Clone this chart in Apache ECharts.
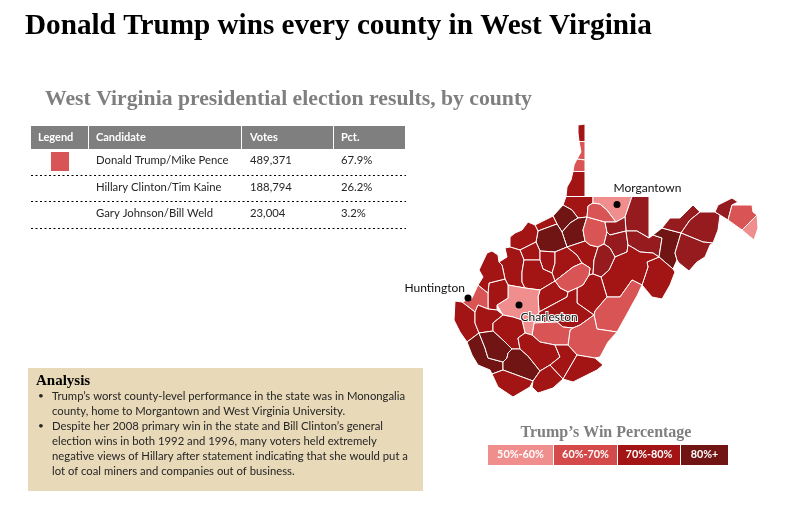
<!DOCTYPE html>
<html>
<head>
<meta charset="utf-8">
<title>West Virginia</title>
<script src="https://cdn.jsdelivr.net/npm/echarts@6/dist/echarts.min.js"></script>
<style>
html,body{margin:0;padding:0;background:#fff}
#chart{width:793px;height:508px}
</style>
</head>
<body>
<div id="chart"></div>
<script>
// table
var tableHead=['Legend','Candidate','Votes','Pct.'];
var candidates=['Donald Trump/Mike Pence','Hillary Clinton/Tim Kaine','Gary Johnson/Bill Weld'];
var votes=['489,371','188,794','23,004'];
var pcts=['67.9%','26.2%','3.2%'];

var analysisLines=[
  'Trump\u2019s worst county-level performance in the state was in Monongalia',
  'county, home to Morgantown and West Virginia University.',
  'Despite her 2008 primary win in the state and Bill Clinton\u2019s general',
  'election wins in both 1992 and 1996, many voters held extremely',
  'negative views of Hillary after statement indicating that she would put a',
  'lot of coal miners and companies out of business.'
];

var legendLabels=['50%-60%','60%-70%','70%-80%','80%+'];

// county results
var counties=['Hancock','Brooke','Ohio','Marshall','Wetzel','Tyler','Pleasants','Doddridge','Ritchie','Wood','Wirt','Jackson','Calhoun','Gilmer','Lewis','Harrison','Marion','Monongalia','Preston','Taylor','Barbour','Tucker','Grant','Mineral','Hampshire','Hardy','Morgan','Berkeley','Jefferson','Pendleton','Randolph','Upshur','Webster','Braxton','Roane','Clay','Nicholas','Pocahontas','Greenbrier','Fayette','Kanawha','Putnam','Cabell','Mason','Wayne','Lincoln','Boone','Mingo','Logan','Wyoming','McDowell','Raleigh','Mercer','Summers','Monroe'];
var trumpPct=[72,65,65,73,74,82,75,84,85,72,74,72,74,73,74,68,66,52,77,77,77,78,87,78,78,78,78,68,55,74,74,77,73,68,72,74,73,68,67,68,55,72,62,73,72,73,73,84,84,85,73,73,74,72,74];

// outlines, page px, neighbours share their vertices
var outlines=[
  [[578,125],[585,124],[585,141.5],[579,141.5],[578,133]],
  [[579,141.5],[585,141.5],[585,160],[577,159],[581,152]],
  [[577,159],[585,160],[585,171.5],[573,171.5],[574,165]],
  [[573,171.5],[585,171.5],[585,196.5],[566,196.5],[567,187],[571,180]],
  [[566,196.5],[585,196.5],[593,196.5],[593,203],[588,206],[587,217],[578,218],[572,210],[563,205]],
  [[563,205],[572,210],[578,218],[570,223],[562,232],[557,224],[553,216]],
  [[535,225],[553,216],[557,224],[538,231]],
  [[578,218],[587,217],[583,230],[585,241],[567,247],[562,232],[570,223]],
  [[538,231],[557,224],[562,232],[567,247],[555,252],[540,251],[536,242]],
  [[528,222],[535,225],[538,231],[536,242],[520,250],[510,247],[510,237],[515,233],[522,230]],
  [[536,242],[540,251],[540,260],[524,260],[520,250]],
  [[510,247],[520,250],[524,260],[522,272],[522,282],[525,288],[508,285],[505,279],[502,265],[499,262],[507,257],[505,248]],
  [[540,251],[555,252],[555,263],[552,273],[543,269],[540,260]],
  [[555,252],[567,247],[577,255],[582,263],[573,267],[555,281],[552,273],[555,263]],
  [[567,247],[585,241],[590,245],[598,247],[594,260],[593,274],[589,275],[590,268],[582,263],[577,255]],
  [[587,217],[605,222],[607,232],[604,244],[598,247],[590,245],[585,241],[583,230]],
  [[593,203],[600,204],[607,210],[616,222],[605,222],[587,217],[588,206]],
  [[593,196.5],[632,196.5],[625,217],[616,222],[607,210],[600,204],[593,203]],
  [[632,196.5],[649,196.5],[649,238],[637,231],[626,231],[625,217]],
  [[605,222],[616,222],[625,217],[626,231],[610,235],[607,232]],
  [[604,244],[607,232],[610,235],[626,231],[628,245],[627,252],[615,257],[610,248]],
  [[626,231],[637,231],[649,238],[653,235],[662,238],[659,257],[653,253],[640,252],[630,246],[628,245]],
  [[653,235],[662,228],[681,233],[675,253],[677,260],[673,269],[659,257],[662,238]],
  [[662,228],[670,218],[680,218],[693,205],[700,212],[690,220],[681,233]],
  [[700,212],[715,212],[720,215],[718,230],[713,243],[703,242],[681,233],[690,220]],
  [[681,233],[703,242],[713,243],[710,245],[705,257],[697,262],[689,271],[679,263],[677,260],[675,253]],
  [[715,212],[718,205],[732,198],[738,202],[732,205],[728,220],[720,215]],
  [[732,205],[752,205],[753,212],[757,215],[742,230],[728,220]],
  [[757,215],[758,228],[754,240],[742,230]],
  [[659,257],[673,269],[675,272],[670,285],[662,299],[652,297],[642,285],[648,267],[647,262]],
  [[628,245],[630,246],[640,252],[653,253],[659,257],[647,262],[648,267],[642,285],[632,280],[620,297],[607,297],[601,277],[609,270],[615,257],[627,252]],
  [[598,247],[604,244],[610,248],[615,257],[609,270],[601,277],[593,274],[594,260]],
  [[589,275],[593,274],[601,277],[607,297],[595,311],[594,315],[577,303],[577,288],[583,285]],
  [[555,281],[573,267],[582,263],[590,268],[589,275],[583,285],[577,288],[568,292],[560,288]],
  [[524,260],[540,260],[543,269],[552,273],[555,281],[540,290],[525,288],[522,282],[522,272]],
  [[540,290],[555,281],[560,288],[568,292],[567,297],[539,312],[538,297]],
  [[539,312],[567,297],[568,292],[577,288],[577,303],[594,315],[580,325],[573,328],[563,327],[557,322],[534,323]],
  [[595,311],[607,297],[620,297],[632,280],[642,285],[637,296],[633,303],[627,314],[617,332],[597,329],[594,315]],
  [[573,328],[580,325],[594,315],[597,329],[617,332],[608,342],[600,357],[595,358],[577,355],[568,345],[570,330]],
  [[534,323],[557,322],[563,327],[573,328],[570,330],[568,345],[555,345],[540,342],[532,335]],
  [[508,285],[525,288],[540,290],[538,297],[539,312],[534,323],[532,335],[525,333],[522,320],[513,317],[503,315],[497,305],[508,298]],
  [[489,283],[505,279],[508,285],[508,298],[497,305],[497,310],[488,309],[488,293]],
  [[478,285],[488,293],[488,309],[478,305],[475,312],[462,302],[472,298]],
  [[479,270],[487,253],[492,251],[498,255],[499,262],[502,265],[505,279],[489,283],[488,293],[478,285],[483,277]],
  [[455,301],[462,302],[475,312],[475,323],[479,333],[467,342],[460,332],[454,320]],
  [[475,312],[478,305],[488,309],[497,310],[503,315],[493,323],[493,331],[479,333],[475,323]],
  [[503,315],[513,317],[522,320],[525,333],[518,338],[520,349],[512,349],[505,342],[493,331],[493,323]],
  [[467,342],[479,333],[485,348],[488,358],[503,362],[503,370],[492,374],[490,370],[478,365],[472,355]],
  [[479,333],[493,331],[505,342],[512,349],[508,353],[507,358],[503,362],[488,358],[485,348]],
  [[508,353],[512,349],[520,349],[528,356],[540,371],[533,381],[503,370],[503,362],[507,358]],
  [[492,374],[503,370],[533,381],[530,387],[513,397],[498,387]],
  [[518,338],[525,333],[532,335],[540,342],[555,345],[560,357],[550,365],[540,371],[528,356],[520,349]],
  [[533,381],[540,371],[550,365],[563,379],[553,388],[538,393],[532,387]],
  [[550,365],[560,357],[555,345],[568,345],[577,355],[563,379]],
  [[577,355],[595,358],[603,365],[597,370],[573,382],[563,379]]
];

var cityNames=['Morgantown','Huntington','Charleston'];
var cityCoords=[[617,204.5],[468,298],[519,305]];

var GRAY='#7f7f7f', TXT='#262626';
var BODY='11.3px Lato, "Noto Sans", sans-serif';
var SERIF='Liberation Serif, serif';

var features=counties.map(function(name,i){
  return {type:'Feature',properties:{name:name},geometry:{type:'Polygon',coordinates:[outlines[i].map(function(p){return [p[0],-p[1]];})]}};
});
echarts.registerMap('wv',{type:'FeatureCollection',features:features});

var chart=echarts.init(document.getElementById('chart'));

function text(x,y,s,font,fill,align){
  return {type:'text',silent:true,style:{x:x,y:y,text:s,font:font,fill:fill,textAlign:align||'left',textVerticalAlign:'middle'}};
}
function rect(x,y,w,h,fill){
  return {type:'rect',silent:true,shape:{x:x,y:y,width:w,height:h},style:{fill:fill}};
}

var g=[];
// table head
var headX=[31,89,242,334], headW=[57,152,91,71], headTextX=[38,96,250,341];
tableHead.forEach(function(h,i){
  g.push(rect(headX[i],126,headW[i],23,GRAY));
  g.push(text(headTextX[i],137.5,h,'bold 11px Lato, sans-serif','#fff'));
});
g.push(rect(51,152,18,19,'#d95555'));
var rowY=[160,187,213], ruleY=[175.5,201.5,228.5];
candidates.forEach(function(c,i){
  g.push(text(96,rowY[i],c,BODY,TXT));
  g.push(text(250,rowY[i],votes[i],BODY,TXT));
  g.push(text(341,rowY[i],pcts[i],BODY,TXT));
  g.push({type:'line',silent:true,shape:{x1:31,y1:ruleY[i],x2:406,y2:ruleY[i]},style:{stroke:'#000',lineWidth:1,lineDash:[2,2.5]}});
});
// analysis box
g.push(rect(28,368,395,123,'#e8d9b9'));
g.push(text(36,381,'Analysis','bold 15px '+SERIF,'#000'));
analysisLines.forEach(function(s,i){
  g.push(text(52,396+i*15,s,BODY,TXT));
});
g.push(text(38,396,'\u2022','10px Lato, sans-serif',TXT));
g.push(text(38,426,'\u2022','10px Lato, sans-serif',TXT));
// win percentage legend
g.push(text(606,433,'Trump\u2019s Win Percentage','bold 16px '+SERIF,GRAY,'center'));
var legX=[488,554,618,681], legW=[65,63,62,47], legC=['#f08d8d','#d44a4a','#a31414','#701414'];
legendLabels.forEach(function(s,i){
  g.push(rect(legX[i],445,legW[i],20,legC[i]));
  g.push(text(legX[i]+legW[i]/2,455,s,'bold 10.8px Lato, sans-serif','#fff','center'));
});

function cityValue(i){
  return [cityCoords[i][0],-cityCoords[i][1]];
}

chart.setOption({
  animation:false,
  title:[
    {text:'Donald Trump wins every county in West Virginia',left:20,top:7,textStyle:{fontFamily:SERIF,fontWeight:'bold',fontSize:29.2,color:'#000'}},
    {text:'West Virginia presidential election results, by county',left:40,top:83,textStyle:{fontFamily:SERIF,fontWeight:'bold',fontSize:21.7,color:GRAY}}
  ],
  visualMap:{
    show:false,seriesIndex:0,type:'piecewise',
    pieces:[
      {min:50,max:60,color:'#f08d8d'},
      {min:60,max:70,color:'#d95555'},
      {min:70,max:76,color:'#a31414'},
      {min:76,max:80,color:'#951b1f'},
      {min:80,color:'#701414'}
    ]
  },
  geo:{
    map:'wv',roam:false,silent:true,aspectScale:1,left:0,top:0,width:793,height:508,
    boundingCoords:[[0,0],[793,-508]],
    label:{show:false},
    itemStyle:{borderColor:'#fff',borderWidth:1},
    emphasis:{disabled:true}
  },
  series:[
    {type:'map',geoIndex:0,data:counties.map(function(n,i){return {name:n,value:trumpPct[i]};})},
    {type:'scatter',coordinateSystem:'geo',symbolSize:7,silent:true,z:5,
      itemStyle:{color:'#000',opacity:1},
      label:{show:true,color:'#111',fontFamily:'Lato, sans-serif',fontSize:12},
      data:[
        {name:cityNames[0],value:cityValue(0),label:{show:true,formatter:'{b}',position:[0,-19]}},
        {name:cityNames[1],value:cityValue(1),label:{show:true,formatter:'{b}',position:[-60,-12]}},
        {name:cityNames[2],value:cityValue(2),label:{show:true,formatter:'{b}',position:[5,10],textBorderColor:'#fff',textBorderWidth:2}}
      ]
    }
  ],
  graphic:g
});
window.onresize=function(){chart.resize();};
</script>
</body>
</html>
